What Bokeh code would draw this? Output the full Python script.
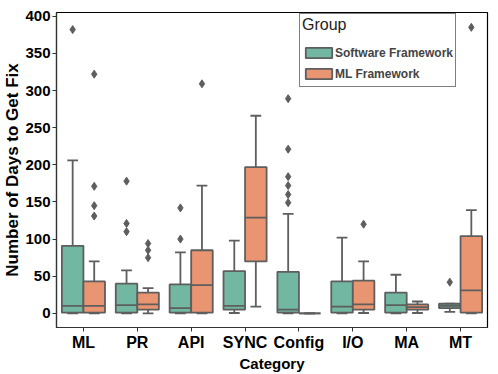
from bokeh.plotting import figure
from bokeh.models import (ColumnDataSource, Range1d, FactorRange, Legend,
                          LegendItem, FixedTicker)
from bokeh.transform import dodge
from bokeh.embed import file_html
from bokeh.resources import INLINE

# ---------------- data ----------------
categories = ["ML", "PR", "API", "SYNC", "Config", "I/O", "MA", "MT"]
groups = ["Software Framework", "ML Framework"]
legend_title = "Group"
y_ticks = [0, 50, 100, 150, 200, 250, 300, 350, 400]

# Software Framework box statistics
sw_lower = [0, 0, 0, 0.5, 0, 0, 0, 2]
sw_q1 = [1, 1, 1, 5, 1, 1, 1, 7]
sw_median = [10, 11, 7, 10, 5, 9, 11, 10]
sw_q3 = [91, 40, 39, 57, 56, 43, 28, 13]
sw_upper = [206, 58, 82, 98, 134, 102, 52, 13]
sw_out_cat = ["ML", "PR", "PR", "PR", "API", "API",
              "Config", "Config", "Config", "Config", "Config", "Config", "MT"]
sw_out_val = [382, 178, 121, 110, 142, 100,
              289, 221, 184, 172, 160, 149, 42]

# ML Framework box statistics
ml_lower = [0, 0, 0, 9, 0, 0.5, 0.5, 0]
ml_q1 = [1, 5, 1, 70, 0, 5, 5, 1]
ml_median = [10, 12, 38, 129, 0, 12, 8.5, 31]
ml_q3 = [43, 28, 85, 197, 0, 44, 12, 104]
ml_upper = [70, 34, 172, 266, 0, 70, 16, 139]
ml_out_cat = ["ML", "ML", "ML", "ML", "PR", "PR", "PR", "API", "I/O", "MT"]
ml_out_val = [322, 171, 145, 131, 94, 85, 75, 309, 120, 385]

# ---------------- style ----------------
FONT = "Liberation Sans"
GRAY = "#5e5e5e"
LW = 1.8
colors = ["#71b7a1", "#e99572"]

p = figure(width=498, height=374,
           x_range=FactorRange(factors=categories),
           y_range=Range1d(-19, 405),
           output_backend="svg", toolbar_location=None,
           min_border_left=55, min_border_right=11,
           min_border_top=12, min_border_bottom=46)

p.xgrid.visible = False
p.ygrid.visible = False
p.outline_line_color = "black"
p.outline_line_width = 1.2
p.background_fill_color = "white"
p.border_fill_color = "white"


def draw_group(offset, lower, q1, med, q3, upper, color, out_cat, out_val):
    src = ColumnDataSource(dict(cat=categories, lower=lower, q1=q1,
                                med=med, q3=q3, upper=upper))
    xc = dodge("cat", offset, range=p.x_range)
    xl = dodge("cat", offset - 0.1, range=p.x_range)
    xr = dodge("cat", offset + 0.1, range=p.x_range)
    xbl = dodge("cat", offset - 0.2, range=p.x_range)
    xbr = dodge("cat", offset + 0.2, range=p.x_range)
    p.segment(x0=xc, y0="q3", x1=xc, y1="upper", source=src,
              line_color=GRAY, line_width=LW)
    p.segment(x0=xc, y0="q1", x1=xc, y1="lower", source=src,
              line_color=GRAY, line_width=LW)
    p.segment(x0=xl, y0="upper", x1=xr, y1="upper", source=src,
              line_color=GRAY, line_width=LW)
    p.segment(x0=xl, y0="lower", x1=xr, y1="lower", source=src,
              line_color=GRAY, line_width=LW)
    box = p.vbar(x=xc, width=0.4, top="q3", bottom="q1", source=src,
                 fill_color=color, line_color=GRAY, line_width=LW)
    p.segment(x0=xbl, y0="med", x1=xbr, y1="med", source=src,
              line_color=GRAY, line_width=LW)
    osrc = ColumnDataSource(dict(cat=out_cat, val=out_val))
    p.scatter(x=xc, y="val", source=osrc, marker="diamond", size=8,
              fill_color=GRAY, line_color=GRAY, line_width=1)
    return box


box_sw = draw_group(-0.2, sw_lower, sw_q1, sw_median, sw_q3, sw_upper,
                    colors[0], sw_out_cat, sw_out_val)
box_ml = draw_group(0.2, ml_lower, ml_q1, ml_median, ml_q3, ml_upper,
                    colors[1], ml_out_cat, ml_out_val)

# ---------------- axes ----------------
p.yaxis.ticker = FixedTicker(ticks=y_ticks)
p.yaxis.minor_tick_line_color = None
for ax in (p.xaxis[0], p.yaxis[0]):
    ax.major_tick_out = 4
    ax.major_tick_in = 0
    ax.major_tick_line_color = "#333333"
    ax.axis_line_color = "#333333"
    ax.axis_line_width = 1.2
    ax.major_label_text_font = FONT
    ax.major_label_text_font_style = "bold"
    ax.major_label_text_color = "black"
    ax.axis_label_text_font = FONT
    ax.axis_label_text_font_style = "bold"
    ax.axis_label_text_color = "black"
    ax.major_label_standoff = 2

p.xaxis.axis_label = "Category"
p.xaxis.axis_label_text_font_size = "15px"
p.xaxis.major_label_text_font_size = "16px"
p.xaxis.axis_label_standoff = 1
p.yaxis.axis_label = "Number of Days to Get Fix"
p.yaxis.axis_label_text_font_size = "17px"
p.yaxis.major_label_text_font_size = "15px"
p.yaxis.axis_label_standoff = 0

# ---------------- legend ----------------
legend = Legend(items=[LegendItem(label=groups[0], renderers=[box_sw]),
                       LegendItem(label=groups[1], renderers=[box_ml])],
                title=legend_title,
                location=(243, 240),
                border_line_color="black", border_line_width=1.3,
                background_fill_color="white", background_fill_alpha=1,
                padding=2, spacing=0,
                glyph_width=33, glyph_height=13, label_height=21,
                label_standoff=0,
                label_text_font=FONT, label_text_font_style="bold",
                label_text_font_size="12px",
                title_text_font=FONT, title_text_font_style="normal",
                title_text_font_size="16px", title_text_color="#222222",
                title_text_align="center",
                title_standoff=8)
p.add_layout(legend)

open("out.html", "w").write(file_html(p, INLINE))
